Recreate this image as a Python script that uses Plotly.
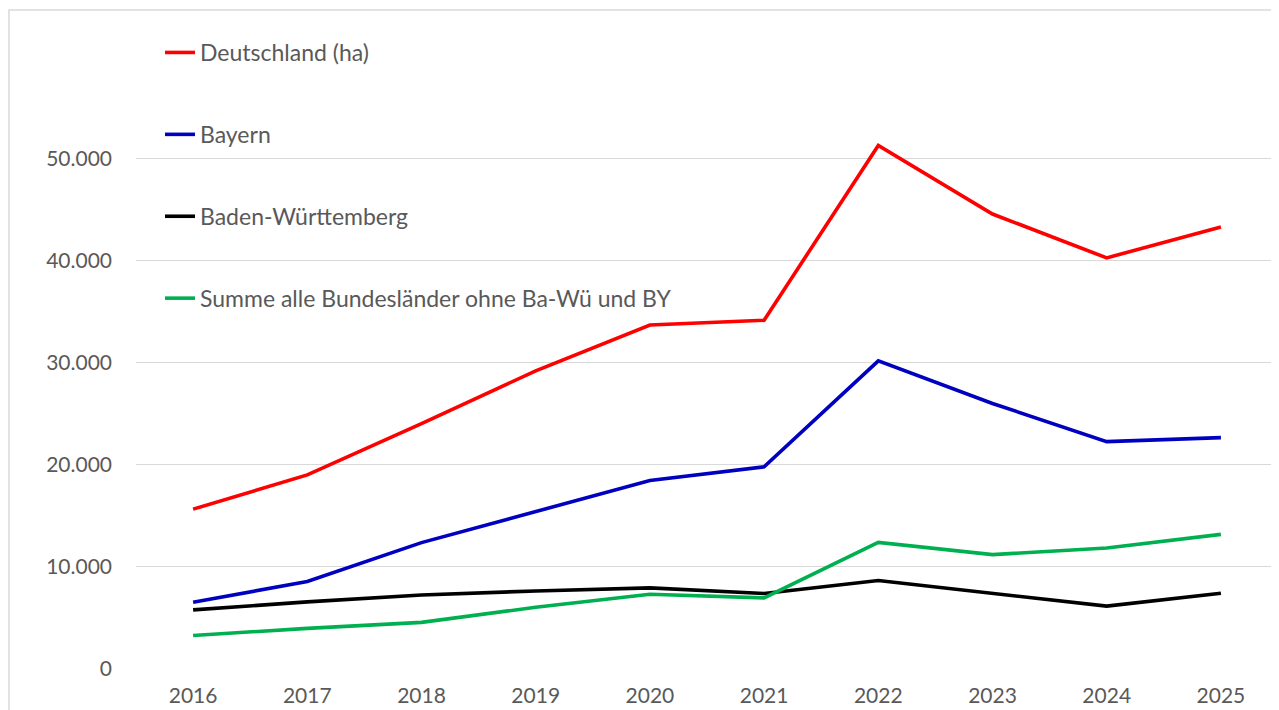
import plotly.graph_objects as go

years = ['2016', '2017', '2018', '2019', '2020', '2021', '2022', '2023', '2024', '2025']

deutschland = [15670, 19030, 24050, 29230, 33720, 34180, 51320, 44600, 40300, 43330]
bayern = [6550, 8570, 12390, 15450, 18475, 19815, 30200, 26030, 22290, 22680]
baden_wuerttemberg = [5800, 6580, 7260, 7650, 7950, 7400, 8670, 7400, 6160, 7430]
summe_rest = [3290, 3980, 4570, 6050, 7330, 6970, 12415, 11210, 11860, 13200]

names = ['Deutschland (ha)', 'Bayern', 'Baden-Württemberg',
         'Summe alle Bundesländer ohne Ba-Wü und BY']
colors = ['#FF0000', '#0000C0', '#000000', '#00B050']

y_ticks = [0, 10000, 20000, 30000, 40000, 50000]
y_ticktext = ['0', '10.000', '20.000', '30.000', '40.000', '50.000']

# page body has an 8px margin, so margins are shifted by that
W, H = 1279, 710
ml, mr, mt, mb = 128, 9, 3, 49
pw = W - ml - mr
ph = H - mt - mb

fig = go.Figure()
for i, (nm, vals) in enumerate(zip(names, [deutschland, bayern, baden_wuerttemberg, summe_rest])):
    fig.add_trace(go.Scatter(x=years, y=vals, mode='lines', name=nm,
                             legendgroup='g%d' % i,
                             line=dict(color=colors[i], width=3.6)))

fig.update_layout(
    width=W, height=H,
    margin=dict(l=ml, r=mr, t=mt, b=mb),
    paper_bgcolor='white', plot_bgcolor='white',
    font=dict(family='Lato, Carlito, sans-serif', color='#595959', size=21),
    showlegend=True,
    legend=dict(x=24 / pw, y=(ph - 20) / ph, xanchor='left', yanchor='top',
                bgcolor='rgba(0,0,0,0)', tracegroupgap=49,
                font=dict(size=23, color='#595959'), itemwidth=30),
    xaxis=dict(type='category', range=[-0.5, 9.5], showgrid=False, showline=False,
               ticks='', zeroline=False, tickfont=dict(size=21),
               ticklabelstandoff=12),
    yaxis=dict(range=[0, 64500], tickvals=y_ticks, ticktext=y_ticktext,
               showgrid=True, gridcolor='#D9D9D9', gridwidth=1, zeroline=False,
               showline=False, ticks='', tickfont=dict(size=21),
               ticklabelstandoff=23),
    shapes=[dict(type='rect', xref='paper', yref='paper',
                 x0=(1 - ml) / pw, x1=(1270 - ml) / pw,
                 y0=-0.2, y1=(ph + 1) / ph,
                 line=dict(color='#D9D9D9', width=1.5), layer='below')],
)

fig.write_html("out.html")
